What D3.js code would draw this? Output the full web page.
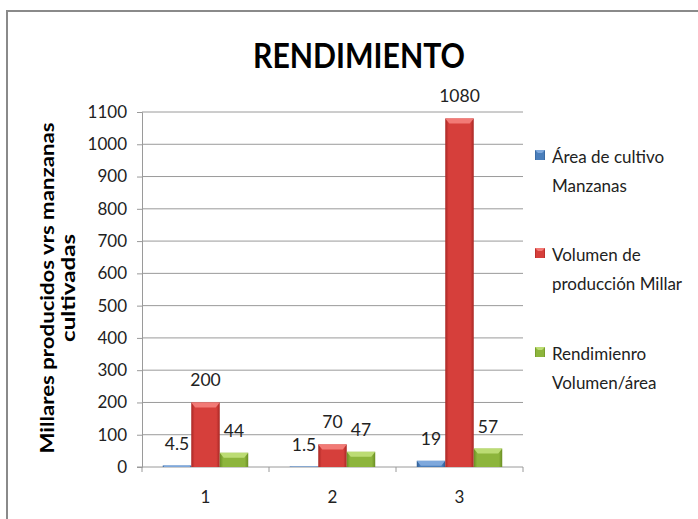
<!DOCTYPE html>
<html>
<head>
<meta charset="utf-8">
<script src="https://cdn.jsdelivr.net/npm/d3@7"></script>
<style>
    body { margin: 0; background: #fff; }
    svg text { font-family: Lato, "Open Sans", sans-serif; fill: #222; }
</style>
</head>
<body>
<svg id="chart" width="698" height="519"></svg>
<script>

// Chart data
const categories = ["1", "2", "3"];
const seriesNames = ["Área de cultivo Manzanas", "Volumen de producción Millar", "Rendimienro Volumen/área"];
const legendLines = [["Área de cultivo", "Manzanas"], ["Volumen de", "producción Millar"], ["Rendimienro", "Volumen/área"]];
const areaValues = [4.5, 1.5, 19];
const volumeValues = [200, 70, 1080];
const yieldValues = [44, 47, 57];
const yTicks = [0, 100, 200, 300, 400, 500, 600, 700, 800, 900, 1000, 1100];

const seriesColors = [
    { base: "#4a7ebb", light: "#7ea8dc", dark: "#2f5d94" },
    { base: "#d63f3b", light: "#f27a76", dark: "#a82724" },
    { base: "#8db53c", light: "#bcdc74", dark: "#6a8e24" }
];

const series = [areaValues, volumeValues, yieldValues];

const svg = d3.select("#chart");

// outer chart border (right and bottom run off the picture)
svg.append("rect")
    .attr("x", 7).attr("y", 11)
    .attr("width", 710).attr("height", 530)
    .attr("fill", "#fff")
    .attr("stroke", "#8a8a8a")
    .attr("stroke-width", 2);

const plot = { left: 142, right: 523, top: 112, bottom: 467 };

const x = d3.scaleBand()
    .domain(categories)
    .range([plot.left, plot.right]);

const groupPad = (x.bandwidth() * (1 - 0.673)) / 2;
const xInner = d3.scaleBand()
    .domain(d3.range(series.length))
    .range([groupPad, x.bandwidth() - groupPad]);

const y = d3.scaleLinear()
    .domain([0, 1100])
    .range([plot.bottom, plot.top]);

// gradients for the bevelled bars
const defs = svg.append("defs");
seriesColors.forEach((c, i) => {
    let g = defs.append("linearGradient")
        .attr("id", "grad" + i)
        .attr("x1", "0%").attr("x2", "100%")
        .attr("y1", "0%").attr("y2", "0%");
    g.append("stop").attr("offset", "0%").attr("stop-color", c.dark);
    g.append("stop").attr("offset", "12%").attr("stop-color", c.base);
    g.append("stop").attr("offset", "50%").attr("stop-color", c.base);
    g.append("stop").attr("offset", "88%").attr("stop-color", c.base);
    g.append("stop").attr("offset", "100%").attr("stop-color", c.dark);
});

// gridlines
svg.append("g")
    .selectAll("line")
    .data(yTicks.filter(d => d > 0))
    .join("line")
    .attr("x1", plot.left).attr("x2", plot.right)
    .attr("y1", d => y(d)).attr("y2", d => y(d))
    .attr("stroke", "#9a9a9a")
    .attr("stroke-width", 1);

// y axis
const yAxis = svg.append("g")
    .attr("transform", `translate(${plot.left},0)`)
    .call(d3.axisLeft(y).tickValues(yTicks).tickFormat(d3.format("d")).tickSize(5).tickPadding(10));
yAxis.select(".domain").attr("stroke", "#9a9a9a");
yAxis.selectAll(".tick line").attr("stroke", "#9a9a9a");
yAxis.selectAll(".tick text")
    .attr("font-size", 17)
    .attr("font-family", "Lato, sans-serif")
    .attr("fill", "#222");

// x axis
const xAxis = svg.append("g")
    .attr("transform", `translate(0,${plot.bottom})`)
    .call(d3.axisBottom(x).tickSize(0).tickPadding(24));
xAxis.select(".domain").attr("stroke", "#9a9a9a").attr("d", `M${plot.left - 5},0H${plot.right}`);
xAxis.selectAll(".tick text")
    .attr("font-size", 17)
    .attr("font-family", "Lato, sans-serif")
    .attr("fill", "#222");
xAxis.append("g")
    .selectAll("line")
    .data(categories.concat(["end"]))
    .join("line")
    .attr("x1", (d, i) => plot.left + i * x.bandwidth())
    .attr("x2", (d, i) => plot.left + i * x.bandwidth())
    .attr("y1", 0).attr("y2", 5)
    .attr("stroke", "#9a9a9a");

// bars
const barData = [];
series.forEach((vals, si) => {
    vals.forEach((v, ci) => {
        barData.push({ si, cat: categories[ci], value: v });
    });
});

const bars = svg.append("g")
    .selectAll("g")
    .data(barData)
    .join("g");

bars.append("rect")
    .attr("x", d => x(d.cat) + xInner(d.si))
    .attr("y", d => y(d.value))
    .attr("width", xInner.bandwidth())
    .attr("height", d => plot.bottom - y(d.value))
    .attr("fill", d => `url(#grad${d.si})`);

// top bevel highlight
bars.append("polygon")
    .attr("points", d => {
        let x0 = x(d.cat) + xInner(d.si);
        let w = xInner.bandwidth();
        let t = y(d.value);
        let h = Math.min(5, plot.bottom - t);
        let s = Math.min(4, h);
        return [[x0, t], [x0 + w, t], [x0 + w - s, t + h], [x0 + s, t + h]].join(" ");
    })
    .attr("fill", d => seriesColors[d.si].light);

// data labels
bars.append("text")
    .attr("x", d => x(d.cat) + xInner(d.si) + xInner.bandwidth() / 2)
    .attr("y", d => y(d.value) - 16)
    .attr("text-anchor", "middle")
    .attr("font-size", 17.5)
    .text(d => d.value);

// title
svg.append("text")
    .attr("x", 253)
    .attr("y", 68)
    .attr("font-size", 35)
    .attr("font-weight", "bold")
    .attr("textLength", 212)
    .attr("lengthAdjust", "spacingAndGlyphs")
    .style("fill", "#000")
    .text("RENDIMIENTO");

// y axis title, two lines
const yTitle = svg.append("g")
    .attr("transform", "translate(0,288)");
yTitle.append("text")
    .attr("transform", "translate(54,0) rotate(-90)")
    .attr("text-anchor", "middle")
    .attr("font-size", 19)
    .attr("font-weight", "bold")
    .attr("textLength", 331)
    .attr("lengthAdjust", "spacingAndGlyphs")
    .style("fill", "#000")
    .text("Millares producidos vrs manzanas");
yTitle.append("text")
    .attr("transform", "translate(75,0) rotate(-90)")
    .attr("text-anchor", "middle")
    .attr("font-size", 19)
    .attr("font-weight", "bold")
    .attr("textLength", 108)
    .attr("lengthAdjust", "spacingAndGlyphs")
    .style("fill", "#000")
    .text("cultivadas");

// legend
const legendTop = [150, 248, 347];
const legend = svg.append("g")
    .selectAll("g")
    .data(seriesNames)
    .join("g")
    .attr("transform", (d, i) => `translate(535,${legendTop[i]})`);

legend.append("rect")
    .attr("width", 10).attr("height", 10)
    .attr("fill", (d, i) => `url(#grad${i})`);
legend.append("polygon")
    .attr("points", "0,0 10,0 7,3 3,3")
    .attr("fill", (d, i) => seriesColors[i].light);

legend.each(function (d, i) {
    let t = d3.select(this).append("text")
        .attr("x", 17)
        .attr("y", 13)
        .attr("font-size", 17);
    legendLines[i].forEach((line, li) => {
        t.append("tspan")
            .attr("x", 17)
            .attr("dy", li === 0 ? 0 : 28.5)
            .text(line);
    });
});

</script>
</body>
</html>
